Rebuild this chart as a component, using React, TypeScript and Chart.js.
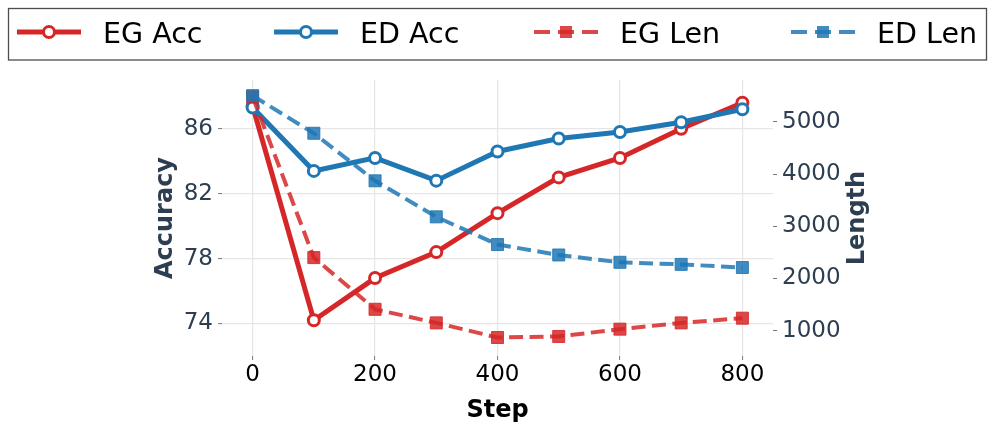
import React, { useEffect, useRef } from "react";
import { Chart, registerables } from "chart.js";

Chart.register(...registerables);

const steps = [0, 100, 200, 300, 400, 500, 600, 700, 800];
const egAcc = [87.4, 74.2, 76.8, 78.4, 80.8, 83.0, 84.2, 86.0, 87.6];
const edAcc = [87.3, 83.4, 84.2, 82.8, 84.6, 85.4, 85.8, 86.4, 87.2];
const egLen = [5480, 2400, 1410, 1150, 870, 890, 1030, 1150, 1240];
const edLen = [5500, 4780, 3870, 3180, 2650, 2450, 2310, 2270, 2210];
const xTicks = [0, 200, 400, 600, 800];
const accTicks = [74, 78, 82, 86];
const lenTicks = [1000, 2000, 3000, 4000, 5000];
const seriesNames = ["EG Acc", "ED Acc", "EG Len", "ED Len"];
const lenTitle = "Length";

const FONT = "'DejaVu Sans', 'Liberation Sans', sans-serif";
const RED = "#d62728";
const BLUE = "#1f77b4";
const RED_A = "rgba(214,39,40,0.85)";
const BLUE_A = "rgba(31,119,180,0.85)";
const SLATE = "#2c3e50";
const GRID = "#e6e6e6";
const TICKMARK = "#777";
const DASH = [14, 6.5];

const toPoints = (vals: number[]) => steps.map((s, i) => ({ x: s, y: vals[i] }));

const legendPlugin = {
  id: "boxLegend",
  afterDraw(chart: any) {
    const ctx = chart.ctx as CanvasRenderingContext2D;
    ctx.save();
    ctx.fillStyle = "#ffffff";
    ctx.fillRect(8.5, 8.5, 978, 51.5);
    ctx.strokeStyle = "#4d4d4d";
    ctx.lineWidth = 1.3;
    ctx.strokeRect(8.5, 8.5, 978, 51.5);
    const starts = [17, 274, 534, 791];
    const cy = 32;
    chart.data.datasets.forEach((ds: any, i: number) => {
      const x0 = starts[i];
      ctx.save();
      ctx.strokeStyle = ds.borderColor;
      ctx.lineWidth = ds.borderWidth;
      ctx.setLineDash(ds.borderDash ? [16, 8] : []);
      ctx.lineCap = "butt";
      ctx.beginPath();
      ctx.moveTo(x0, cy);
      ctx.lineTo(x0 + 64, cy);
      ctx.stroke();
      ctx.setLineDash([]);
      const mx = x0 + 32;
      if (ds.pointStyle === "rect") {
        ctx.fillStyle = ds.pointBackgroundColor;
        ctx.fillRect(mx - 6, cy - 6, 12, 12);
      } else {
        ctx.beginPath();
        ctx.arc(mx, cy, 5.5, 0, Math.PI * 2);
        ctx.fillStyle = "#ffffff";
        ctx.fill();
        ctx.lineWidth = 3;
        ctx.strokeStyle = ds.pointBorderColor;
        ctx.stroke();
      }
      ctx.restore();
      ctx.fillStyle = "#000000";
      ctx.font = `28.5px ${FONT}`;
      ctx.textBaseline = "alphabetic";
      ctx.textAlign = "left";
      ctx.fillText(seriesNames[i], x0 + 86, 42.5);
    });
    // right axis title, rotated to read bottom-to-top
    const ca = chart.chartArea;
    ctx.save();
    ctx.translate(858, (ca.top + ca.bottom) / 2);
    ctx.rotate(-Math.PI / 2);
    ctx.fillStyle = SLATE;
    ctx.font = `bold 24px ${FONT}`;
    ctx.textAlign = "center";
    ctx.textBaseline = "middle";
    ctx.fillText(lenTitle, 0, 0);
    ctx.restore();
    ctx.restore();
  },
};

export default function App() {
  const ref = useRef<HTMLCanvasElement | null>(null);

  useEffect(() => {
    if (!ref.current) return;
    const accStyle = (color: string, order: number) => ({
      borderColor: color,
      backgroundColor: "#ffffff",
      borderWidth: 5,
      pointStyle: "circle",
      pointRadius: 5.5,
      pointBorderWidth: 3,
      pointBackgroundColor: "#ffffff",
      pointBorderColor: color,
      yAxisID: "yAcc",
      order,
      tension: 0,
    });
    const lenStyle = (color: string, order: number) => ({
      borderColor: color,
      backgroundColor: color,
      borderWidth: 4,
      borderDash: DASH,
      pointStyle: "rect",
      pointRadius: 8.5,
      pointBorderWidth: 1,
      pointBackgroundColor: color,
      pointBorderColor: color,
      yAxisID: "yLen",
      order,
      tension: 0,
    });
    const chart = new Chart(ref.current, {
      type: "line",
      data: {
        datasets: [
          { label: seriesNames[0], data: toPoints(egAcc), ...accStyle(RED, 4) },
          { label: seriesNames[1], data: toPoints(edAcc), ...accStyle(BLUE, 3) },
          { label: seriesNames[2], data: toPoints(egLen), ...lenStyle(RED_A, 2) },
          { label: seriesNames[3], data: toPoints(edLen), ...lenStyle(BLUE_A, 1) },
        ] as any,
      },
      options: {
        animation: false,
        responsive: false,
        devicePixelRatio: 1,
        layout: { padding: { top: 80, left: 0, right: 0, bottom: 0 } },
        plugins: { legend: { display: false }, tooltip: { enabled: false } },
        scales: {
          x: {
            type: "linear",
            min: -50,
            max: 850,
            afterBuildTicks: (s: any) => {
              s.ticks = xTicks.map((v) => ({ value: v }));
            },
            afterFit: (s: any) => {
              s.height = 70;
            },
            grid: { color: GRID, lineWidth: 1.2, tickLength: 4, tickColor: TICKMARK, tickWidth: 1 },
            border: { display: false },
            ticks: { color: "#000", font: { size: 23, family: FONT }, padding: 1.5, maxRotation: 0, autoSkip: false },
            title: {
              display: true,
              text: "Step",
              color: "#000",
              font: { size: 24, weight: "bold", family: FONT },
              padding: { top: 0, bottom: 0.5 },
            },
          },
          yAcc: {
            type: "linear",
            position: "left",
            min: 72,
            max: 89,
            afterBuildTicks: (s: any) => {
              s.ticks = accTicks.map((v) => ({ value: v }));
            },
            afterFit: (s: any) => {
              s.width = 222;
            },
            grid: { color: GRID, lineWidth: 1.2, tickLength: 4, tickColor: TICKMARK, tickWidth: 1 },
            border: { display: false },
            ticks: { color: SLATE, font: { size: 23, family: FONT }, padding: 5, autoSkip: false },
            title: {
              display: true,
              text: "Accuracy",
              color: SLATE,
              font: { size: 24, weight: "bold", family: FONT },
              padding: { top: 151.6, bottom: 0 },
            },
          },
          yLen: {
            type: "linear",
            position: "right",
            min: 516,
            max: 5800,
            afterBuildTicks: (s: any) => {
              s.ticks = lenTicks.map((v) => ({ value: v }));
            },
            afterFit: (s: any) => {
              s.width = 223;
            },
            grid: { drawOnChartArea: false, tickLength: 4, tickColor: TICKMARK, tickWidth: 1 },
            border: { display: false },
            ticks: {
              color: SLATE,
              font: { size: 23, family: FONT },
              padding: 5,
              autoSkip: false,
              callback: (v: any) => String(v),
            },
            title: { display: false },
          },
        },
      } as any,
      plugins: [legendPlugin],
    });
    return () => chart.destroy();
  }, []);

  return (
    <div style={{ position: "fixed", left: 0, top: 0, width: 996, height: 426, background: "#fff" }}>
      <canvas ref={ref} width={996} height={426} style={{ width: 996, height: 426, display: "block" }} />
    </div>
  );
}
